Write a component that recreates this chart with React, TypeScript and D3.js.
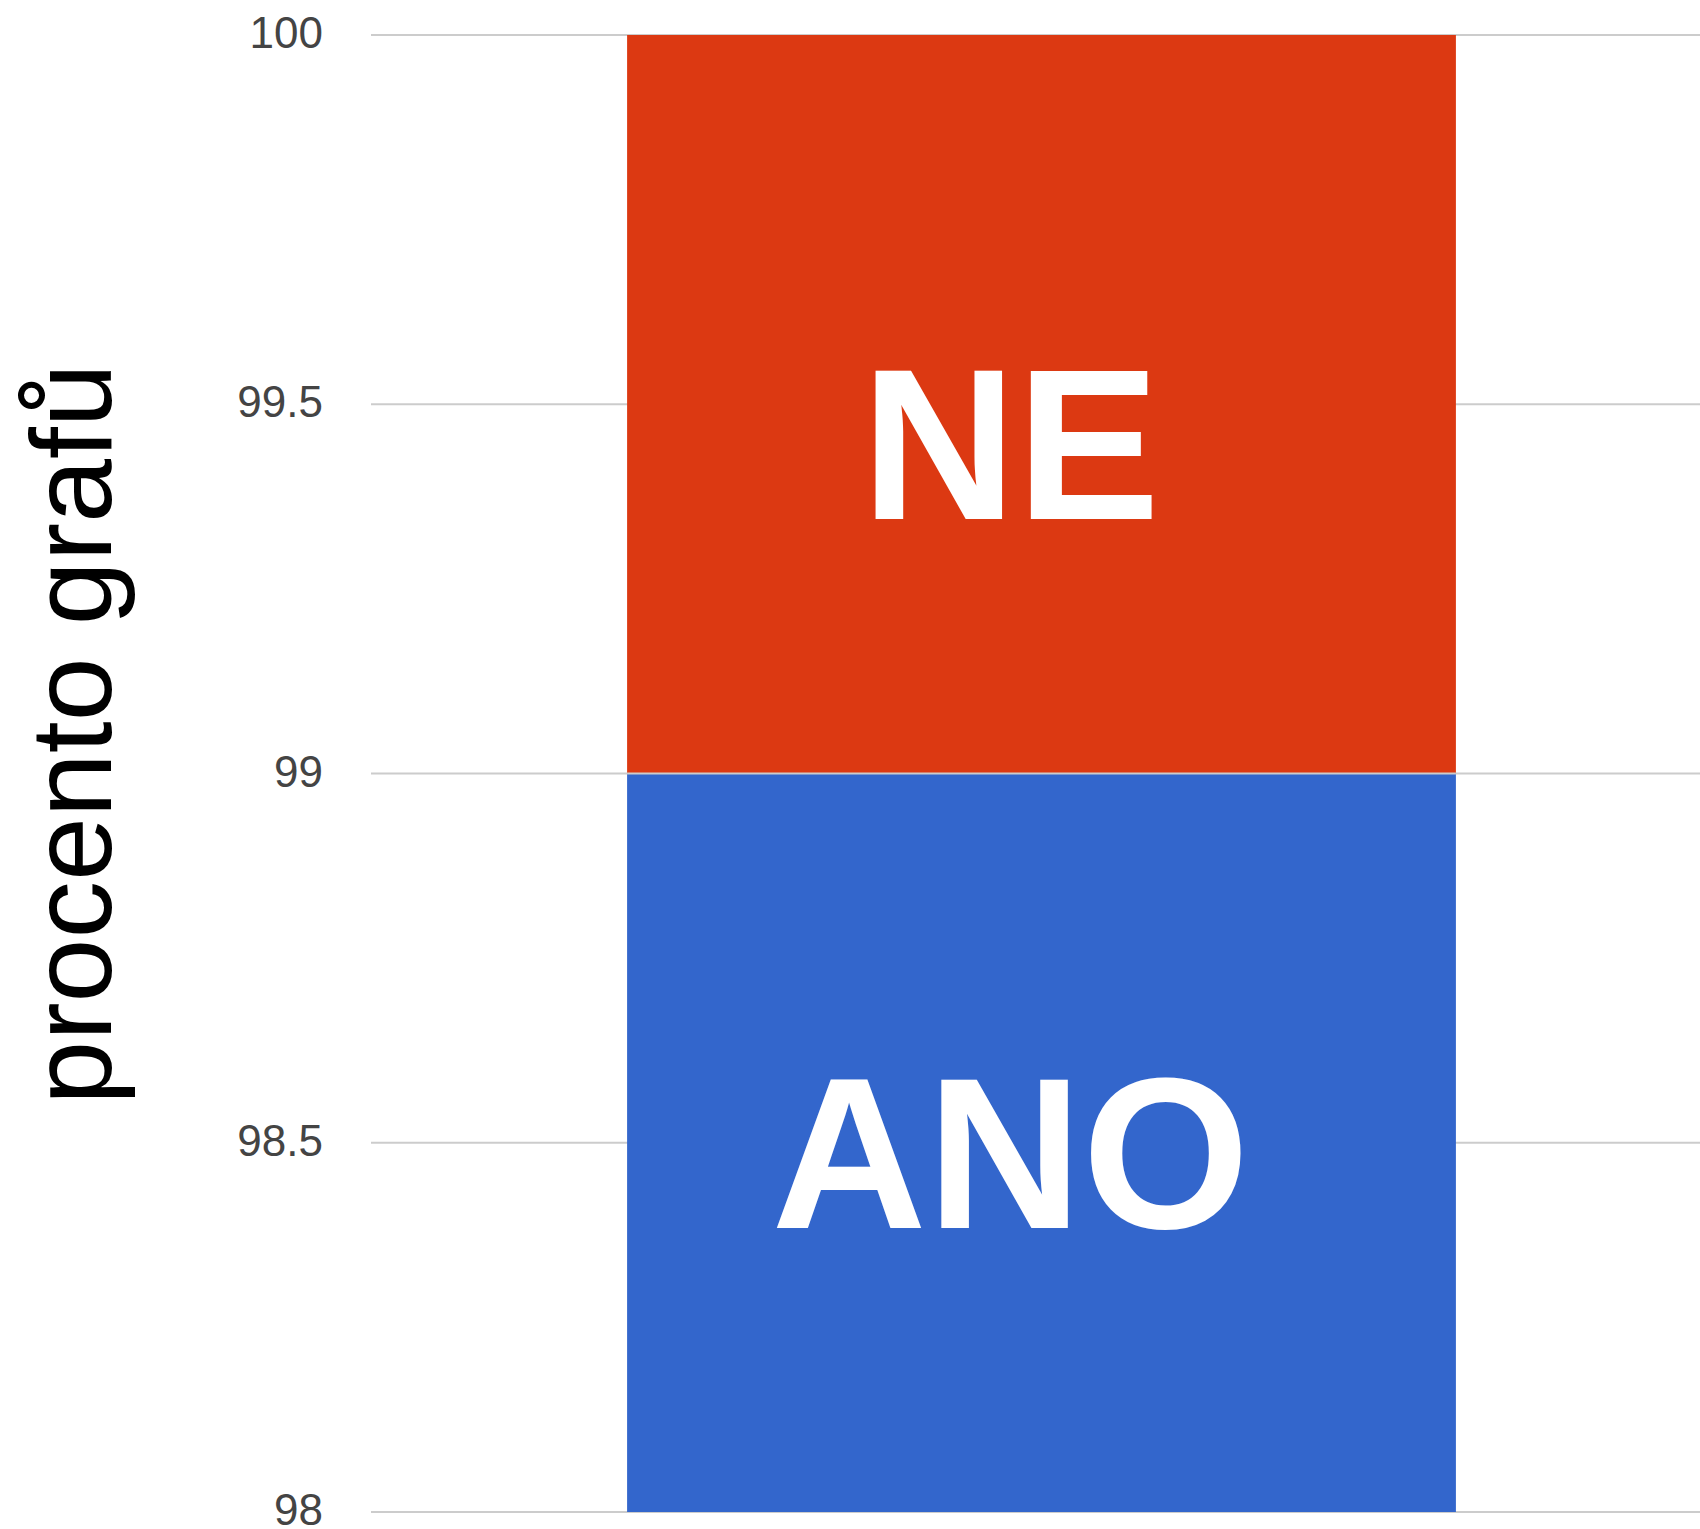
import { useEffect, useRef } from 'react';
import * as d3 from 'd3';

const categories = ['ANO', 'NE'];
const values = [99, 1];
const colors = ['#3366cc', '#dc3912'];
const labelAt = [98.49, 99.45];
const ticks = [98, 98.5, 99, 99.5, 100];
const tickLabels = ['98', '98.5', '99', '99.5', '100'];
const axisTitle = 'procento grafů';

const WIDTH = 1700;
const HEIGHT = 1529;

export default function App() {
  const svgRef = useRef<SVGSVGElement>(null);

  useEffect(() => {
    if (!svgRef.current) return;
    const svg = d3.select(svgRef.current);
    svg.selectAll('*').remove();

    const left = 371;
    const top = 35;
    const bottom = 1512;

    const y = d3.scaleLinear().domain([98, 100]).range([bottom, top]);
    const x = d3.scaleBand().domain(['']).range([left, 1712]).paddingInner(0).paddingOuter(0.309);

    // Gridlines
    svg.append('g')
      .selectAll('line')
      .data(ticks)
      .join('line')
      .attr('x1', left)
      .attr('x2', WIDTH)
      .attr('y1', d => y(d))
      .attr('y2', d => y(d))
      .attr('stroke', '#cccccc')
      .attr('stroke-width', 2);

    // Tick labels
    svg.append('g')
      .selectAll('text')
      .data(ticks)
      .join('text')
      .attr('x', 323)
      .attr('y', d => y(d))
      .attr('dy', '0.3em')
      .attr('text-anchor', 'end')
      .attr('font-family', '"Liberation Sans", Arial, sans-serif')
      .attr('font-size', 44)
      .attr('fill', '#444444')
      .text((_, i) => tickLabels[i]);

    // Stacked segments
    let acc = 0;
    const segs = values.map((v, i) => {
      const s = { name: categories[i], y0: acc, y1: acc + v, color: colors[i], label: labelAt[i] };
      acc += v;
      return s;
    });

    const bx = x('') as number;
    const bw = x.bandwidth();

    const g = svg.append('g');
    g.selectAll('rect')
      .data(segs)
      .join('rect')
      .attr('x', bx)
      .attr('width', bw)
      .attr('y', d => y(Math.min(d.y1, 100)))
      .attr('height', d => y(Math.max(d.y0, 98)) - y(Math.min(d.y1, 100)))
      .attr('fill', d => d.color);

    // Separator between segments
    g.append('line')
      .attr('x1', bx)
      .attr('x2', bx + bw)
      .attr('y1', y(values[0]))
      .attr('y2', y(values[0]))
      .attr('stroke', '#cccccc')
      .attr('stroke-width', 2);

    g.selectAll('text')
      .data(segs)
      .join('text')
      .attr('x', bx + bw / 2 - 31)
      .attr('y', d => y(d.label))
      .attr('dy', '0.36em')
      .attr('text-anchor', 'middle')
      .attr('font-family', '"Liberation Sans", Arial, sans-serif')
      .attr('font-weight', 'bold')
      .attr('font-size', 215)
      .attr('fill', '#ffffff')
      .text(d => d.name);

    // Y axis title
    svg.append('text')
      .attr('transform', `translate(111, 734) rotate(-90)`)
      .attr('text-anchor', 'middle')
      .attr('font-family', '"Liberation Sans", Arial, sans-serif')
      .attr('font-size', 115)
      .attr('fill', '#000000')
      .text(axisTitle);
  }, []);

  return (
    <svg
      ref={svgRef}
      width={WIDTH}
      height={HEIGHT}
      style={{ position: 'absolute', left: 0, top: 0, background: '#ffffff' }}
    />
  );
}
